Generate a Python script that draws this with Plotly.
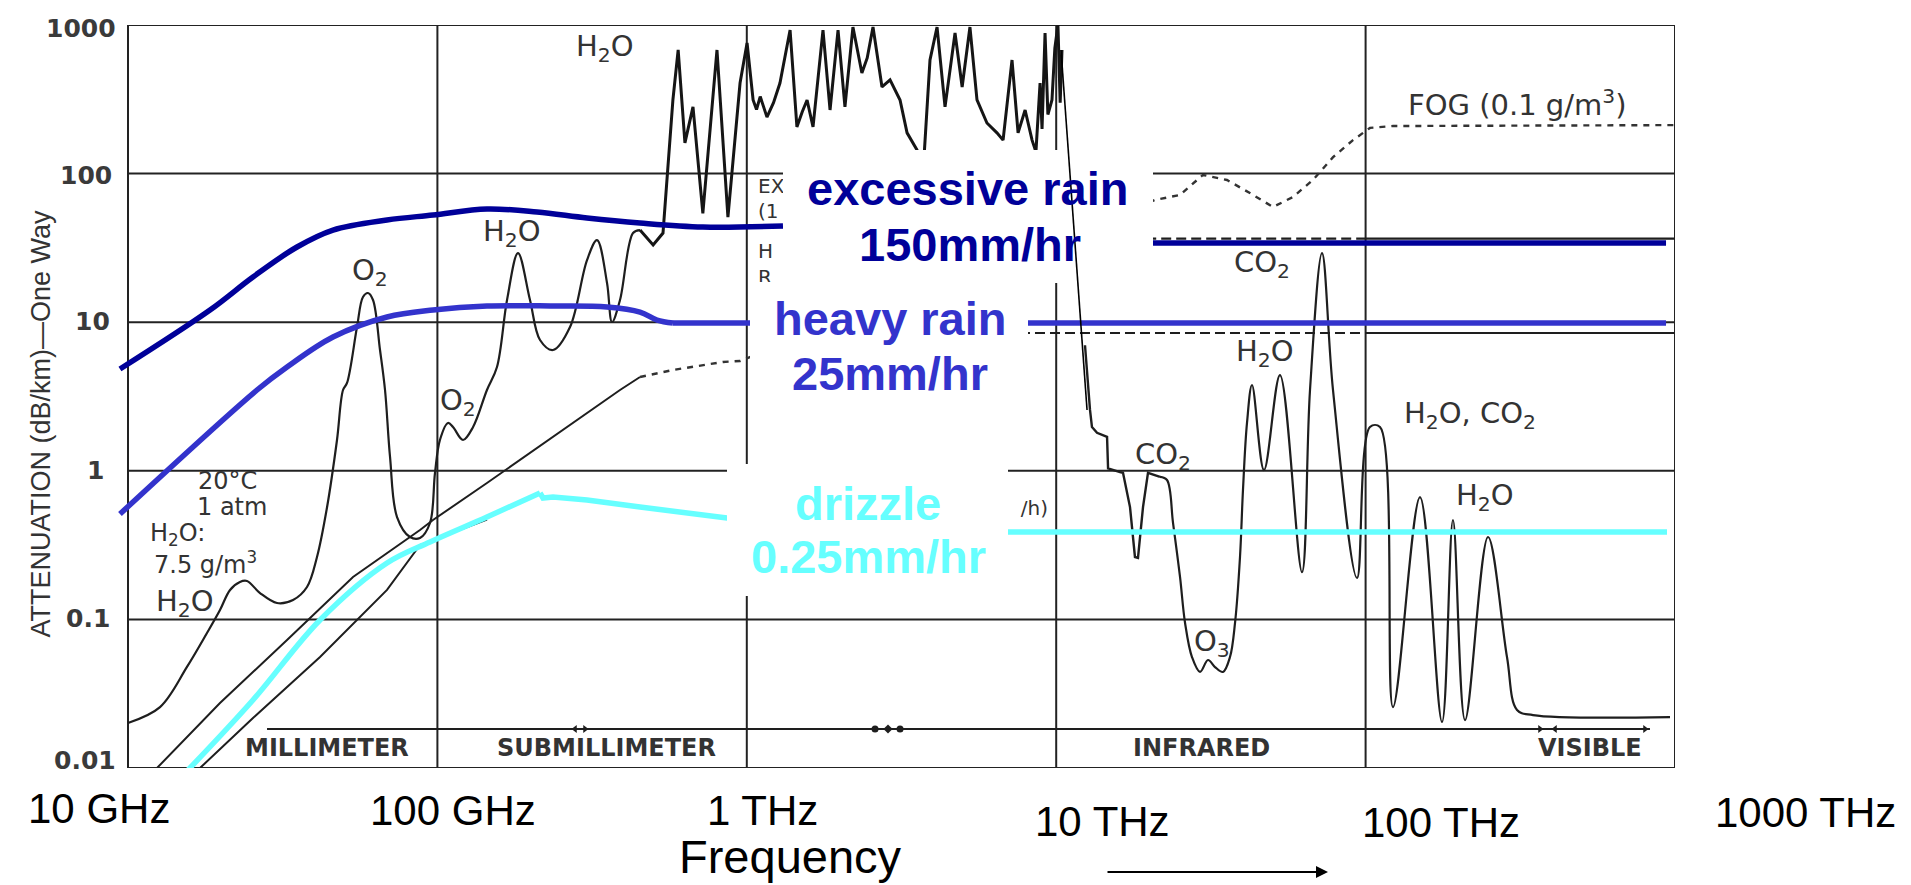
import plotly.graph_objects as go

# ---------------- axis / grid values ----------------
grid_freq_ghz = [10, 100, 1000, 10000, 100000, 1000000]
grid_att = [0.01, 0.1, 1, 10, 100, 1000]
ytick_text = ["0.01", "0.1", "1", "10", "100", "1000"]
xtick_text = ["10 GHz", "100 GHz", "1 THz", "10 THz", "100 THz", "1000 THz"]

# ---------------- black curves of the scanned chart (GHz, dB/km) ----------------
# O2 / H2O absorption, 10 GHz - 450 GHz
gas_f = [10.0, 12.69, 15.51, 18.0, 19.83, 21.37, 23.0, 24.24, 26.71, 30.31, 34.15, 37.89, 40.82, 44.0,
         47.37, 49.54, 51.04, 54.97, 57.47, 59.66, 61.93, 65.24, 67.72, 70.29, 74.05, 81.54, 87.85,
         94.65, 98.22, 101.9, 108.2, 112.3, 121.0, 130.4, 144.6, 155.8, 167.9, 182.2, 199.2, 214.6,
         236.4, 268.3, 304.5, 328.1, 353.4, 366.8, 389.2, 428.8, 451.7]
gas_att = [0.0201, 0.0257, 0.0479, 0.081, 0.1157, 0.1578, 0.1786, 0.1813, 0.1505, 0.1289, 0.1351, 0.1652,
           0.263, 0.5705, 1.612, 3.497, 3.899, 9.28, 14.78, 15.72, 14.11, 6.50, 3.497, 1.239, 0.4887,
           0.3585, 0.3531, 0.4454, 0.9665, 1.612, 2.098, 1.971, 1.612, 1.971, 3.497, 4.995, 14.11, 29.2,
           14.11, 7.59, 6.50, 9.28, 26.2, 35.7, 18.35, 10.03, 14.11, 39.8, 41.7]

# dense H2O band, 0.45 - 10 THz
dense_f = [451.7, 498, 536, 577, 600, 631, 670, 721, 801, 869, 951, 1002, 1048, 1075, 1105, 1162, 1220,
           1280, 1380, 1452, 1510, 1566, 1637, 1763, 1858, 1972, 2076, 2203, 2355, 2450, 2558, 2735,
           2904, 3128, 3296, 3550, 3700, 3909, 4120, 4372, 4710, 4966, 5263, 5546, 5973, 6435, 6734,
           7198, 7530, 7934, 8356, 8600, 8869, 9000, 9204, 9400, 9690, 9900, 10130, 10300, 10440]
dense_att = [41.7, 33.1, 39.8, 313, 679, 161, 281, 54, 679, 51, 407, 757, 313, 270, 330, 240, 300, 407,
             925, 206, 260, 313, 206, 925, 268, 925, 281, 969, 475, 600, 969, 383, 427, 313, 188, 144,
             90, 581, 969, 281, 884, 383, 969, 313, 219, 188, 168, 581, 188, 268, 168, 140, 407, 200,
             884, 250, 313, 700, 1000, 300, 679]

# infrared window, staircase part
ir1_f = [12390, 12580, 12860, 13050, 13550, 14600, 14710, 16080, 16440, 17320, 17970, 18380, 19080,
         19800, 21650]
ir1_att = [7.0, 4.4, 2.57, 1.97, 1.80, 1.69, 1.04, 0.98, 0.97, 0.57, 0.263, 0.259, 0.57, 0.97, 0.91]

# infrared / visible, smooth part
ir2_f = [21650, 22810, 23860, 25130, 26090, 27470, 29160, 30950, 32600, 34600, 36450, 37840, 39270,
         40150, 41370, 42940, 46950, 52880, 62290, 66120, 72290, 78450, 93800, 103300, 111300, 122600,
         149900, 176600, 191600, 209600, 248700, 286400, 308600, 347600, 963500]
ir2_att = [0.91, 0.867, 0.445, 0.193, 0.0946, 0.0558, 0.0443, 0.0533, 0.0478, 0.0443, 0.0558, 0.0946,
           0.263, 0.743, 2.098, 3.78, 1.01, 4.41, 0.208, 3.5, 29.2, 3.5, 0.19, 1.97, 1.97, 0.0257,
           0.666, 0.0204, 0.4665, 0.021, 0.3585, 0.0558, 0.0246, 0.0227, 0.022]

# fog curve (solid part, then dashed)
fog_solid_f = [12.41, 19.83, 32.66, 53.37, 87.85, 96.78, 144.6, 236.4, 389.2, 451.7]
fog_solid_att = [0.01, 0.02738, 0.07266, 0.1929, 0.3995, 0.4665, 0.8276, 1.689, 3.497, 4.277]
fog_dash_f = [451.7, 577.2, 837.6, 950.7, 20850, 25120, 29790, 35640, 42270, 50200, 58230, 67560,
              78480, 91050, 103300, 122700, 1000000]
fog_dash_att = [4.277, 4.768, 5.40, 5.48, 66.5, 71.8, 97.9, 90.6, 74.0, 59.6, 69.6, 90.6, 129, 168,
                203, 209, 212]

# original (black) drizzle curve, low-frequency part
drz_orig_f = [17.09, 25.35, 41.75, 68.73, 87.85, 144.6]
drz_orig_att = [0.01, 0.0217, 0.0558, 0.1578, 0.3167, 0.47]

# original (black) rain levels in the infrared: dashed below 100 THz, solid above
heavy_orig_f = [1024, 100000, 1000000]
heavy_orig_att = [8.46, 8.46, 8.46]
exc_orig_f = [10000, 100000, 1000000]
exc_orig_att = [36.5, 36.5, 36.5]

# band bar (MILLIMETER ... VISIBLE) and its small boundary marks
band_f = [28.14, 830000]
band_att = [0.0183, 0.0183]
band_mark_f = [278.4, 300.0, 2597, 2860, 3128, 366200, 409400, 799900]
band_mark_sym = ["triangle-left", "triangle-right", "circle", "diamond", "circle",
                 "triangle-right", "triangle-left", "triangle-right"]

# thin connecting stroke drawn over the labels
thin_f = [10364, 12581]
thin_att = [679, 2.566]

# ---------------- coloured rain overlays (GHz, dB/km) ----------------
exc_f = [9.42, 18.41, 25.35, 35.18, 45.98, 68.73, 96.78, 144.6, 209.9, 304.5, 451.7, 721, 1309]
exc_att = [4.843, 12.08, 20.15, 32.07, 41.7, 48.73, 52.64, 57.79, 55.15, 50.25, 46.51, 43.72, 44.42]
exc_flat_f = [1309, 20710, 935400]
exc_flat_att = [44.42, 34.07, 34.07]

hvy_f = [9.42, 26.12, 32.66, 45.98, 68.73, 96.78, 144.6, 236.4, 353.4, 451.7, 512.8, 577.2]
hvy_att = [0.5121, 3.497, 4.995, 7.95, 10.84, 12.08, 12.85, 12.85, 12.66, 11.71, 10.34, 9.876]
hvy_flat_f = [577.2, 935400]
hvy_flat_att = [9.876, 9.876]

drz_f = [15.63, 25.35, 41.75, 68.73, 94.65, 144.6, 214.6]
drz_att = [0.00969, 0.02868, 0.0991, 0.2396, 0.3319, 0.4887, 0.7088]
drz_flat_f = [214.6, 219.5, 236.4, 304.5, 451.7, 863, 6986, 942200]
drz_flat_att = [0.7088, 0.6561, 0.6664, 0.6362, 0.5705, 0.4813, 0.3874, 0.3874]

NAVY = "#000099"
BLUE = "#3333CC"
CYAN = "#66FFFF"
INK = "#1e1e1e"

# ---------------- geometry (pixel frame of the screenshot) ----------------
SCREEN_W, SCREEN_H = 1911, 885
OFF = 8                      # default page margin of the html body
W, H = SCREEN_W - OFF, SCREEN_H - OFF
PL, PR, PT, PB = 118, 1675, 25, 768   # plot area in screenshot pixels
DEC_X = 309.4
X_LO = 1 - 10 / DEC_X


def pxx(px):
    return (px - PL) / (PR - PL)


def pxy(py):
    return (PB - py) / (PB - PT)


def px_to_ghz(px):
    return 10 ** (X_LO + (px - PL) / DEC_X)


def py_to_att(py):
    return 10 ** (3 - (py - PT) / 148.6)


fig = go.Figure()


def line(x, y, color=INK, width=2.2, shape="linear", dash=None):
    fig.add_trace(go.Scatter(x=x, y=y, mode="lines", hoverinfo="skip", showlegend=False,
                             line=dict(color=color, width=width, shape=shape, dash=dash,
                                       smoothing=1.0 if shape == "spline" else None)))


# black curves
line(band_f, band_att, width=2)
fig.add_trace(go.Scatter(x=band_mark_f, y=[band_att[0]] * len(band_mark_f), mode="markers",
                         hoverinfo="skip", showlegend=False,
                         marker=dict(symbol=band_mark_sym, size=7, color=INK)))
line(gas_f, gas_att, shape="spline")
line(dense_f, dense_att, color="#151515", width=3)
line(ir1_f, ir1_att, width=2.4)
line(ir2_f, ir2_att, shape="spline")
line(fog_solid_f, fog_solid_att, width=2)
line(fog_dash_f, fog_dash_att, color="#333333", width=2.4, dash="6px,6px")
line(drz_orig_f, drz_orig_att, width=2)
line(heavy_orig_f[:2], heavy_orig_att[:2], width=2.2, dash="10px,5px")
line(heavy_orig_f[1:], heavy_orig_att[1:], width=2.2)
line(exc_orig_f[:2], exc_orig_att[:2], width=2.2, dash="10px,5px")
line(exc_orig_f[1:], exc_orig_att[1:], width=2.2)

# visible fragments of the original labels (the rest is hidden under the white boxes)
frag_font = dict(family="DejaVu Sans", size=20, color="#333333")
for txt, px, py, pos in [("EX", 758, 188, "middle right"),
                         ("(1", 758, 213, "middle right"),
                         ("H", 758, 253, "middle right"),
                         ("R", 758, 279, "middle right"),
                         ("/h)", 1048, 510, "middle left")]:
    fig.add_trace(go.Scatter(x=[px_to_ghz(px)], y=[py_to_att(py)], mode="text", text=[txt],
                             textposition=pos, textfont=frag_font, hoverinfo="skip",
                             showlegend=False))

# coloured overlays
line(exc_f, exc_att, color=NAVY, width=5.5, shape="spline")
line(exc_flat_f, exc_flat_att, color=NAVY, width=5.5)
line(hvy_f, hvy_att, color=BLUE, width=5.5, shape="spline")
line(hvy_flat_f, hvy_flat_att, color=BLUE, width=5.5)
line(drz_f, drz_att, color=CYAN, width=5.5, shape="spline")
line(drz_flat_f, drz_flat_att, color=CYAN, width=5.5)

shapes = []
# grid + frame (below traces)
for f in grid_freq_ghz:
    shapes.append(dict(type="line", xref="x", yref="y", x0=f, x1=f, y0=grid_att[0], y1=grid_att[-1],
                       layer="below", line=dict(color="#222222", width=2)))
for a in grid_att:
    shapes.append(dict(type="line", xref="x", yref="y", x0=grid_freq_ghz[0], x1=grid_freq_ghz[-1],
                       y0=a, y1=a, layer="below", line=dict(color="#222222", width=2)))
# white label boxes (above traces)
for x0, x1, y0, y1 in [(783, 1153, 150, 283), (750, 1028, 282, 464), (727, 1008, 464, 596)]:
    shapes.append(dict(type="rect", xref="paper", yref="paper", x0=pxx(x0), x1=pxx(x1),
                       y0=pxy(y1), y1=pxy(y0), layer="above", fillcolor="white",
                       line=dict(width=0)))
# thin stroke on top of the boxes
shapes.append(dict(type="line", xref="x", yref="y", x0=thin_f[0], y0=thin_att[0], x1=thin_f[1],
                   y1=thin_att[1], layer="above", line=dict(color="black", width=1.6)))

ann = []


def text(t, px, py, size, color="#333333", family="DejaVu Sans", xanchor="center", angle=0):
    ann.append(dict(text=t, xref="paper", yref="paper", x=pxx(px), y=pxy(py), xanchor=xanchor,
                    yanchor="middle", showarrow=False, textangle=angle,
                    font=dict(family=family, size=size, color=color)))


ARIAL = "Liberation Sans, Arial, sans-serif"

# coloured labels
for t, px, py, col in [("excessive rain", 967, 188.5, NAVY), ("150mm/hr", 970, 245, NAVY),
                       ("heavy rain", 890, 318.5, BLUE), ("25mm/hr", 890, 373.5, BLUE),
                       ("drizzle", 868, 503.5, CYAN), ("0.25mm/hr", 868, 556.5, CYAN)]:
    text("<b>" + t + "</b>", px, py, 47, color=col, family=ARIAL)

# y tick labels (scanned)
for t, px, py in zip(ytick_text, [118, 112, 106, 112, 114, 118], [760, 618.5, 470.5, 321.5, 176, 28.5]):
    text("<b>" + t + "</b>", px, py, 25, color="#3a3a3a", xanchor="right")

# frequency labels
for t, px, py in zip(xtick_text, [99, 453, 762, 1102, 1441, 1805], [808, 810, 810, 821, 822, 812]):
    text(t, px, py, 42, color="black", family=ARIAL)
text("Frequency", 790, 856, 47, color="black", family=ARIAL)

# y axis title
text("ATTENUATION (dB/km)—One Way", 40, 423.5, 27, color="#333333", family=ARIAL, angle=-90)

# labels of the scanned chart
for t, px, py in [("H<sub>2</sub>O", 605, 48), ("H<sub>2</sub>O", 512, 233), ("O<sub>2</sub>", 370, 272),
                  ("O<sub>2</sub>", 458, 402), ("H<sub>2</sub>O", 185, 603),
                  ("CO<sub>2</sub>", 1163, 456), ("O<sub>3</sub>", 1212, 643),
                  ("CO<sub>2</sub>", 1262, 264), ("H<sub>2</sub>O", 1265, 353),
                  ("H<sub>2</sub>O, CO<sub>2</sub>", 1470, 415), ("H<sub>2</sub>O", 1485, 497)]:
    text(t, px, py, 29)
text("FOG (0.1 g/m<sup>3</sup>)", 1517, 103, 29)
# conditions block (tightly stacked lines)
text("20°C", 227, 481, 24)
text("1 atm", 232, 507, 24)
text("H<sub>2</sub>O:", 148, 534, 24, xanchor="left")
text("7.5 g/m<sup>3</sup>", 152, 563, 24, xanchor="left")
for t, px in [("MILLIMETER", 327), ("SUBMILLIMETER", 606), ("INFRARED", 1201), ("VISIBLE", 1590)]:
    text("<b>" + t + "</b>", px, 748, 24)

# arrow under the frequency labels
ann.append(dict(text="", xref="paper", yref="paper", x=pxx(1328), y=pxy(872), ax=-222, ay=0,
                showarrow=True, arrowhead=2, arrowsize=1.2, arrowwidth=2, arrowcolor="black"))

fig.update_layout(
    width=W, height=H, autosize=False,
    margin=dict(l=PL - OFF, r=SCREEN_W - PR, t=PT - OFF, b=SCREEN_H - PB, pad=0),
    paper_bgcolor="white", plot_bgcolor="white",
    showlegend=False,
    xaxis=dict(type="log", range=[X_LO, 6], showgrid=False, zeroline=False, showline=False,
               showticklabels=False, ticks=""),
    yaxis=dict(type="log", range=[-2, 3], showgrid=False, zeroline=False, showline=False,
               showticklabels=False, ticks=""),
    shapes=shapes,
    annotations=ann,
)

fig.write_html("out.html", config={"displayModeBar": False})
